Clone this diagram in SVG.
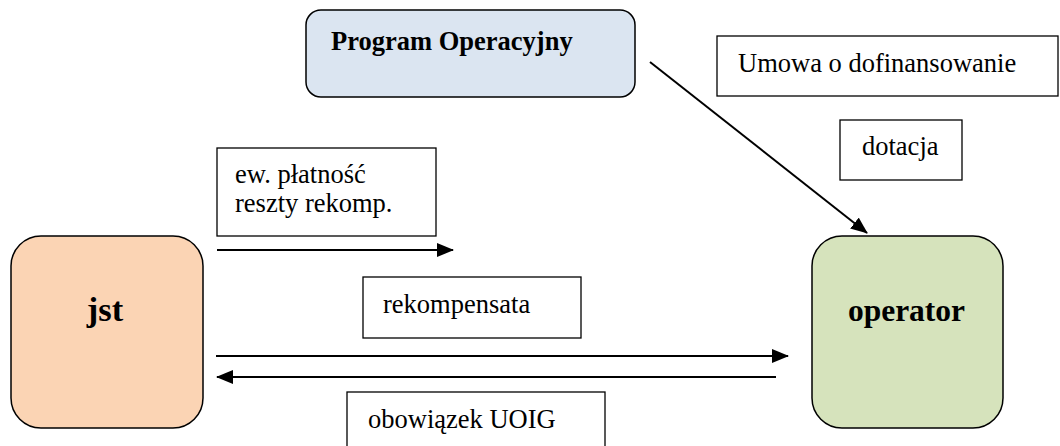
<svg xmlns="http://www.w3.org/2000/svg" width="1060" height="446" viewBox="0 0 1060 446">
  <style>
    .node { stroke: #000; stroke-width: 1.5; }
    .label { fill: #fff; stroke: #000; stroke-width: 1.3; }
    .txt { font-family: "Liberation Serif", "Times New Roman", serif; font-size: 26.5px; fill: #000; }
    .bold { font-weight: bold; }
    .edge { stroke: #000; stroke-width: 2; fill: none; marker-end: url(#head); }
  </style>
  <defs>
    <marker id="head" markerUnits="userSpaceOnUse" markerWidth="18" markerHeight="14" refX="16" refY="7" orient="auto">
      <path d="M0,0 L17,7 L0,14 Z" fill="#000"/>
    </marker>
  </defs>
  <rect width="1060" height="446" fill="#fff"/>

  <!-- main parties -->
  <g id="program-operacyjny">
    <rect class="node" x="306" y="10" width="329" height="87" rx="15" fill="#dbe5f1"/>
    <text class="txt bold" x="331" y="50">Program Operacyjny</text>
  </g>
  <g id="jst">
    <rect class="node" x="11" y="236" width="192" height="192" rx="30" fill="#fbd4b4"/>
    <text class="txt bold" x="105" y="321" style="font-size:34.5px" text-anchor="middle">jst</text>
  </g>
  <g id="operator">
    <rect class="node" x="812" y="236" width="191" height="192" rx="30" fill="#d6e3bc"/>
    <text class="txt bold" x="906.5" y="321" style="font-size:31.5px" text-anchor="middle">operator</text>
  </g>

  <!-- flow labels -->
  <g id="umowa">
    <rect class="label" x="717" y="36" width="341" height="60"/>
    <text class="txt" x="738" y="72">Umowa o dofinansowanie</text>
  </g>
  <g id="dotacja">
    <rect class="label" x="840" y="120" width="122" height="60"/>
    <text class="txt" x="862" y="155">dotacja</text>
  </g>
  <g id="platnosc-reszty">
    <rect class="label" x="217" y="148" width="219" height="88"/>
    <text class="txt" x="235" y="183">ew. płatność</text>
    <text class="txt" x="235" y="212">reszty rekomp.</text>
  </g>
  <g id="rekompensata">
    <rect class="label" x="363" y="277" width="218" height="61"/>
    <text class="txt" x="383" y="313">rekompensata</text>
  </g>
  <g id="obowiazek">
    <rect class="label" x="347" y="392" width="258" height="60"/>
    <text class="txt" x="368" y="428">obowiązek UOIG</text>
  </g>

  <!-- connectors -->
  <g id="connectors">
    <line class="edge" x1="650" y1="62" x2="867" y2="233"/>
    <line class="edge" x1="217" y1="250" x2="453" y2="250"/>
    <line class="edge" x1="216" y1="356" x2="788" y2="356"/>
    <line class="edge" x1="776" y1="377" x2="217" y2="377"/>
  </g>
</svg>
